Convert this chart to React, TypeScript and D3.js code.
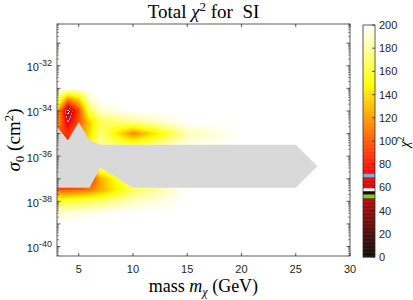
import { useMemo } from 'react'
import * as d3 from 'd3'

// grid of the chi2 surface: mass (GeV) x log10(sigma0 / cm^2)
const massGrid = [3, 4, 5, 6, 7, 10, 15, 20, 25, 30]
const logSigmaGrid = [-39, -38.5, -38, -37.5, -37, -36.5, -36, -35.5, -35, -34.5, -34, -33.5, -33]

// one row per logSigmaGrid entry, one value per mass
const chi2_m390 = [200, 200, 200, 200, 200, 200, 200, 200, 200, 200]
const chi2_m385 = [192, 193, 194, 196, 198, 200, 200, 200, 200, 200]
const chi2_m380 = [160, 162, 164, 168, 172, 188, 200, 200, 200, 200]
const chi2_m375 = [105, 105, 108, 112, 125, 168, 200, 200, 200, 200]
const chi2_m370 = [25, 25, 30, 85, 125, 185, 200, 200, 200, 200]
const chi2_m365 = [20, 20, 25, 120, 175, 200, 200, 200, 200, 200]
const chi2_m360 = [40, 40, 40, 100, 160, 200, 200, 200, 200, 200]
const chi2_m355 = [70, 85, 100, 150, 180, 165, 195, 200, 200, 200]
const chi2_m350 = [95, 90, 110, 140, 175, 115, 185, 200, 200, 200]
const chi2_m345 = [125, 71, 100, 135, 165, 178, 200, 200, 200, 200]
const chi2_m340 = [130, 52, 95, 165, 190, 200, 200, 200, 200, 200]
const chi2_m335 = [180, 112, 135, 190, 200, 200, 200, 200, 200, 200]
const chi2_m330 = [200, 200, 200, 200, 200, 200, 200, 200, 200, 200]

const chi2Rows = [
  chi2_m390, chi2_m385, chi2_m380, chi2_m375, chi2_m370, chi2_m365, chi2_m360,
  chi2_m355, chi2_m350, chi2_m345, chi2_m340, chi2_m335, chi2_m330,
]

// grey excluded region outline
const greyMass = [3, 4, 5, 6, 7, 25, 27, 25, 10, 7, 6, 3]
const greyLogSigma = [-34.7, -35.3, -34.5, -35.3, -35.5, -35.5, -36.45, -37.4, -37.4, -36.5, -37.4, -37.4]

const xTicks = [5, 10, 15, 20, 25, 30]
const yTickExps = [-40, -38, -36, -34, -32]
const cbTicks = [0, 20, 40, 60, 80, 100, 120, 140, 160, 180, 200]

// marker bands on the colour scale (chi2 ranges)
const bandLo = [51, 54.7, 57, 69]
const bandHi = [53.8, 57, 59.5, 72]
const bandColor = ['#19ff19', '#000000', '#ffffff', '#5ab4e4']

const W = 413
const H = 300
const left = 57
const right = 350
const top = 24
const bottom = 256

const clamp = (v: number) => Math.max(0, Math.min(1, v))

function chiColor(v: number) {
  for (let k = 0; k < bandLo.length; k++) {
    if (v >= bandLo[k] && v < bandHi[k]) return bandColor[k]
  }
  const r = clamp(v / 75)
  const g = clamp((v - 75) / 75)
  const b = clamp((v - 150) / 50)
  return d3.rgb(r * 255, g * 255, b * 255).formatHex()
}

function chi2At(m: number, ls: number) {
  const nm = massGrid.length
  const ns = logSigmaGrid.length
  if (m < massGrid[0] || m > massGrid[nm - 1]) return 200
  if (ls < logSigmaGrid[0] || ls > logSigmaGrid[ns - 1]) return 200
  const i = Math.min(nm - 2, Math.max(0, d3.bisectRight(massGrid, m) - 1))
  const j = Math.min(ns - 2, Math.max(0, d3.bisectRight(logSigmaGrid, ls) - 1))
  const tx = (m - massGrid[i]) / (massGrid[i + 1] - massGrid[i])
  const ty = (ls - logSigmaGrid[j]) / (logSigmaGrid[j + 1] - logSigmaGrid[j])
  const a = chi2Rows[j][i] * (1 - tx) + chi2Rows[j][i + 1] * tx
  const b = chi2Rows[j + 1][i] * (1 - tx) + chi2Rows[j + 1][i + 1] * tx
  return a * (1 - ty) + b * ty
}

export default function App() {
  const x = d3.scaleLinear().domain([3, 30]).range([left, right])
  const y = d3.scaleLog().domain([Math.pow(10, -40.42), Math.pow(10, -30.15)]).range([bottom, top])
  const cb = d3.scaleLinear().domain([0, 200]).range([257, 25])

  // raster of the interpolated surface, runs of equal colour merged per row
  const cells = useMemo(() => {
    const out: { x: number; y: number; w: number; c: string }[] = []
    for (let py = top; py < bottom; py++) {
      const ls = Math.log10(y.invert(py + 0.5))
      let run: { x: number; y: number; w: number; c: string } | null = null
      for (let px = left; px < right; px++) {
        const v = chi2At(x.invert(px + 0.5), ls)
        const c = v < 199.5 ? chiColor(v) : null
        if (run && c === run.c) {
          run.w += 1
        } else {
          if (run) out.push(run)
          run = c ? { x: px, y: py, w: 1, c } : null
        }
      }
      if (run) out.push(run)
    }
    return out
  }, [])

  const cbRects = useMemo(() => {
    const out: { v: number; c: string }[] = []
    for (let v = 0; v < 200; v += 0.5) out.push({ v, c: chiColor(v + 0.25) })
    return out
  }, [])

  const greyPath =
    d3.line<number>()
      .x((_, k) => x(greyMass[k]))
      .y((_, k) => y(Math.pow(10, greyLogSigma[k])))(greyMass) + 'Z'

  // log ticks: decades and minor multiples
  const yMinor: number[] = []
  const yMajor: number[] = []
  for (let d = -41; d <= -30; d++) {
    for (let k = 1; k < 10; k++) {
      const v = k * Math.pow(10, d)
      const py = y(v)
      if (py < top || py > bottom) continue
      if (k === 1) yMajor.push(py)
      else yMinor.push(py)
    }
  }

  const axisCol = '#262626'
  const sans = 'Liberation Sans, Arial, sans-serif'
  const serif = 'Liberation Serif, Times New Roman, serif'

  return (
    <svg width={W} height={H} style={{ position: 'absolute', left: 0, top: 0, background: '#fff' }}>
      <g shapeRendering="crispEdges">
        {cells.map((d, k) => (
          <rect key={k} x={d.x} y={d.y} width={d.w} height={1} fill={d.c} />
        ))}
      </g>
      <path d={greyPath} fill="#d9d9d9" />

      {/* axes box */}
      <rect x={left} y={top} width={right - left} height={bottom - top} fill="none" stroke={axisCol} strokeWidth={0.75} />
      {xTicks.map((t) => (
        <g key={t}>
          <line x1={x(t)} x2={x(t)} y1={bottom} y2={bottom - 3} stroke={axisCol} strokeWidth={0.75} />
          <line x1={x(t)} x2={x(t)} y1={top} y2={top + 3} stroke={axisCol} strokeWidth={0.75} />
          <text x={x(t)} y={273} textAnchor="middle" fontFamily={sans} fontSize={11} fill={axisCol}>{t}</text>
        </g>
      ))}
      {yMajor.map((py, k) => (
        <g key={'M' + k}>
          <line x1={left} x2={left + 3.5} y1={py} y2={py} stroke={axisCol} strokeWidth={0.75} />
          <line x1={right} x2={right - 3.5} y1={py} y2={py} stroke={axisCol} strokeWidth={0.75} />
        </g>
      ))}
      {yMinor.map((py, k) => (
        <g key={'m' + k}>
          <line x1={left} x2={left + 2} y1={py} y2={py} stroke={axisCol} strokeWidth={0.5} />
          <line x1={right} x2={right - 2} y1={py} y2={py} stroke={axisCol} strokeWidth={0.5} />
        </g>
      ))}
      {yTickExps.map((e) => (
        <text key={e} x={52} y={y(Math.pow(10, e)) + 5.5} textAnchor="end" fontFamily={sans} fontSize={11} fill={axisCol}>
          10<tspan dy={-5} fontSize={9}>{e}</tspan>
        </text>
      ))}

      {/* title and labels */}
      <text x={(left + right) / 2} y={18} textAnchor="middle" fontFamily={serif} fontSize={19} fill="#000" style={{ whiteSpace: 'pre' }}>
        Total <tspan fontStyle="italic">χ</tspan><tspan dy={-7} fontSize={13}>2</tspan><tspan dy={7}>{' for  SI'}</tspan>
      </text>
      <text x={(left + right) / 2} y={292} textAnchor="middle" fontFamily={serif} fontSize={18} fill="#000" style={{ whiteSpace: 'pre' }}>
        mass <tspan fontStyle="italic">m</tspan><tspan dy={4} fontSize={12} fontStyle="italic">χ</tspan><tspan dy={-4}>{' (GeV)'}</tspan>
      </text>
      <text transform={`translate(20,${(top + bottom) / 2}) rotate(-90)`} textAnchor="middle" fontFamily={serif} fontSize={19} fill="#000" style={{ whiteSpace: 'pre' }}>
        <tspan fontStyle="italic">σ</tspan><tspan dy={4} fontSize={13}>0</tspan><tspan dy={-4}>{' (cm'}</tspan><tspan dy={-7} fontSize={13}>2</tspan><tspan dy={7}>)</tspan>
      </text>

      {/* colorbar */}
      <g>
        {cbRects.map((d, k) => (
          <rect key={k} x={363} y={cb(d.v + 0.5)} width={12} height={cb(d.v) - cb(d.v + 0.5) + 0.3} fill={d.c} />
        ))}
      </g>
      <rect x={363} y={25} width={12} height={232} fill="none" stroke={axisCol} strokeWidth={0.75} />
      {cbTicks.map((t) => (
        <g key={t}>
          <line x1={375} x2={372} y1={cb(t)} y2={cb(t)} stroke={axisCol} strokeWidth={0.75} />
          <text x={379} y={cb(t) + 4} fontFamily={sans} fontSize={11} fill={axisCol}>{t}</text>
        </g>
      ))}
      <text transform="translate(409,142) rotate(-90)" textAnchor="middle" fontFamily={serif} fontSize={14} fill="#000">
        <tspan fontStyle="italic">χ</tspan><tspan dy={-5} fontSize={10}>2</tspan>
      </text>
    </svg>
  )
}
